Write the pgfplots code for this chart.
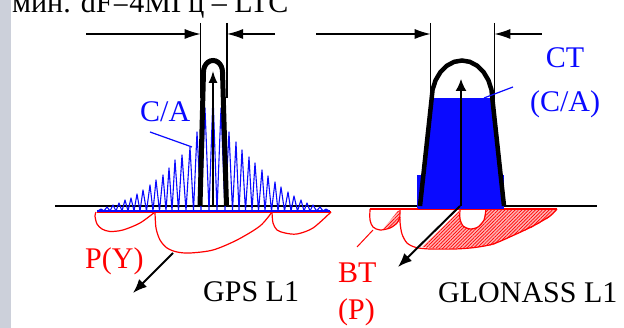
\documentclass[border=0pt]{standalone}
\usepackage{fontspec}
\setmainfont{Liberation Serif}
\usepackage{pgfplots}
\pgfplotsset{compat=1.18}
\usetikzlibrary{arrows.meta,patterns.meta}
\definecolor{stripgray}{RGB}{204,208,218}
\definecolor{myblue}{RGB}{10,10,255}
\definecolor{myred}{RGB}{255,0,0}
\tikzset{lbl/.style={font=\fontsize{30}{34}\selectfont, inner sep=0pt, anchor=base west},
  clbl/.style={font=\fontsize{30}{34}\selectfont, inner sep=0pt, anchor=base}}
\begin{document}
\begin{tikzpicture}
\useasboundingbox (0,0) rectangle (624pt,328pt);
\clip (0,0) rectangle (624pt,328pt);
\begin{axis}[at={(0,0)}, anchor=south west, x=1pt, y=1pt,
  xmin=0, xmax=624, ymin=-120, ymax=208, hide axis, clip=false]
% gray strip
\addplot[fill=stripgray, draw=none] coordinates {(0,-120)(10.5,-120)(10.5,208)(0,208)};
% black baseline
\addplot[black, line width=2.5pt] coordinates {(55,2)(597,2)};
% ---------- GPS red P(Y) lobes
\addplot[myred, line width=1.2pt, smooth] coordinates {(96,-4)(95,-8)(97,-16)(102,-21)(110,-23.5)(123,-22)(140,-15)(155,-4)};
\addplot[myred, line width=1.2pt, smooth] coordinates {(155,-4)(156,-20)(160,-32)(167,-40)(177,-44)(190,-45)(213,-42)(237,-32)(260,-18)(272,-4)};
\addplot[myred, line width=1.2pt, smooth] coordinates {(272,-4)(273,-15)(277,-22)(285,-25)(297,-26)(313,-20)(331,-4)};
\addplot[myred, line width=1.5pt] coordinates {(97,-4)(331,-4)};
% ---------- GPS C/A spectral lines
\addplot[myblue, line width=1.1pt, line join=round] coordinates {
(98,-3)(101,-1)(104,-3)(107,1)(110,-3)(113,3)(116,-3)(119,5)(122,-3)(125,8)(128,-3)(131,10)(134,-3)(137,14)(140,-3)(143,18)(146.5,-3)(150,23)(153,-3)(156,28)(159.5,-3)(163,33)(166,-3)(169,40)(172,-3)(175,48)(178.5,-3)(182,53)(186,-3)(190,61)(193.5,-3)(197,76)(201,-3)(205,100)(209,-3)(213,113)(217,-3)(221,100)(225,-3)(229,76)(232.5,-3)(236,66)(239,-3)(242,58)(245.5,-3)(249,51)(252,-3)(255,45)(258.5,-3)(262,38)(265,-3)(268,32)(271.5,-3)(275,26)(278,-3)(281,21)(284.5,-3)(288,16)(291,-3)(294,12)(297.5,-3)(301,8)(304,-3)(307,5)(310,-3)(313,3)(316.5,-3)(320,1)(323,-3)(326,-1)(329,-3)};
\addplot[myblue, line width=1.1pt] coordinates {(97,-3)(330,-3)};
% GPS band shape
\addplot[black, line width=5pt] coordinates {(200,2)(203.5,136)(203.82,138.98)(204.77,141.75)(206.28,144.13)(208.25,145.96)(210.54,147.11)(213,147.5)(215.46,147.11)(217.75,145.96)(219.72,144.13)(221.23,141.75)(222.18,138.98)(222.5,136)(226.5,2)};
\addplot[black, line width=1.5pt, -{Latex[length=12pt,width=9pt]}] coordinates {(213,2)(213,137)};
% ---------- GLONASS red P lobes
\addplot[draw=none, fill=myred!30, postaction={pattern={Lines[angle=45,distance=2.4pt,line width=0.7pt]}, pattern color=myred}] coordinates {(422,-39)(440,-41)(470,-40)(493,-37)(510,-29)(533,-19)(550,-9)(557,-1)(486,-1)(484,-12)(478,-19)(470,-21)(463,-18)(460,-11)(459,-3)};
\addplot[draw=none, fill=myred!30, postaction={pattern={Lines[angle=45,distance=2.4pt,line width=0.7pt]}, pattern color=myred}] coordinates {(383,-21)(398,-3)(400,-3)(400,-11)(397,-15)(390,-20)};
\addplot[myred, line width=1.2pt] coordinates {(370,-1)(557,-1)};
\addplot[myred, line width=1.2pt, smooth] coordinates {(370,-1)(370,-12)(373,-19)(380,-22)(390,-20)(397,-15)(400,-9)};
\addplot[myred, line width=1.2pt, smooth] coordinates {(400,-1)(400,-14)(402,-26)(407,-35)(416,-39.5)(430,-41)(455,-41)(475,-39.5)(493,-36)(512,-28)(533,-18)(550,-8)(557,-1)};
\addplot[myred, line width=1.2pt, smooth] coordinates {(460,-1)(460,-11)(463,-18)(470,-21)(478,-19)(484,-12)(486,-1)};
\addplot[myred, line width=1pt] coordinates {(357,-39)(373,-22)};
% ---------- GLONASS C/A comb
\addplot[ycomb, myblue, line width=1.1pt, mark=none] coordinates {
(418,33)(420,33)(422,33)(424,37)(426,55)(428,74)(430,92)(432,109)(434,109)(436,109)(438,109)(440,109)(442,109)(444,109)(446,109)(448,109)(450,109)(452,109)(454,109)(456,109)(458,109)(460,109)(462,109)(464,109)(466,109)(468,109)(470,109)(472,109)(474,109)(476,109)(478,109)(480,110)(482,110)(484,110)(486,110)(488,109)(490,109)(492,108)(494,92)(496,74)(498,55)(500,37)(502,33)(503.5,33)};
\addplot[myblue, line width=1.5pt] coordinates {(418,0)(504,0)};
\addplot[myblue, line width=1.2pt] coordinates {(432,109)(492,109)};
% GLONASS band shape
\addplot[black, line width=4.5pt] coordinates {(420,2)(431.5,108)(432.54,118.23)(435.59,127.75)(440.43,135.93)(446.75,142.21)(454.11,146.15)(462,147.5)(469.89,146.15)(477.25,142.21)(483.57,135.93)(488.41,127.75)(491.46,118.23)(492.5,108)(504,2)};
\addplot[black, line width=1.5pt, -{Latex[length=12pt,width=11pt]}] coordinates {(461,2)(461,129)};
% ---------- dimension arrows
\addplot[black, line width=1.3pt, -{Latex[length=16pt,width=10pt]}] coordinates {(86,174)(200.7,174)};
\addplot[black, line width=1.3pt, -{Latex[length=16pt,width=10pt]}] coordinates {(275,174)(227,174)};
\addplot[black, line width=1.3pt] coordinates {(200.7,185)(200.7,110)};
\addplot[black, line width=1.3pt] coordinates {(227,185)(227,110)};
\addplot[black, line width=1.3pt, -{Latex[length=16pt,width=10pt]}] coordinates {(316,174)(430.7,174)};
\addplot[black, line width=1.3pt, -{Latex[length=16pt,width=10pt]}] coordinates {(541.7,174)(494.3,174)};
\addplot[black, line width=1.3pt] coordinates {(430.7,185)(430.7,105)};
\addplot[black, line width=1.3pt] coordinates {(494.3,185)(494.3,105)};
% ---------- depth arrows
\addplot[black, line width=2pt, -{Latex[length=14pt,width=11pt]}] coordinates {(173,-45)(133,-85)};
\addplot[black, line width=2pt, -{Latex[length=14pt,width=11pt]}] coordinates {(460,2)(398,-59)};
% ---------- labels
\addplot[myblue, line width=1.2pt] coordinates {(150,76)(192,61)};
\addplot[myblue, line width=1.2pt] coordinates {(513,121)(484,110)};
\node[lbl] at (axis cs:12,195) {мин. dF=4МГц – LTC};
\node[lbl, text=myblue] at (axis cs:140,86) {C/A};
\node[clbl, text=myblue] at (axis cs:565,140) {CT};
\node[clbl, text=myblue] at (axis cs:565,96) {(C/A)};
\node[lbl, text=myred] at (axis cs:85,-61) {P(Y)};
\node[lbl] at (axis cs:203,-94) {GPS L1};
\node[lbl, text=myred] at (axis cs:338,-75) {BT};
\node[lbl, text=myred] at (axis cs:338,-112) {(P)};
\node[lbl] at (axis cs:438,-95) {GLONASS L1};
\end{axis}
\end{tikzpicture}
\end{document}
